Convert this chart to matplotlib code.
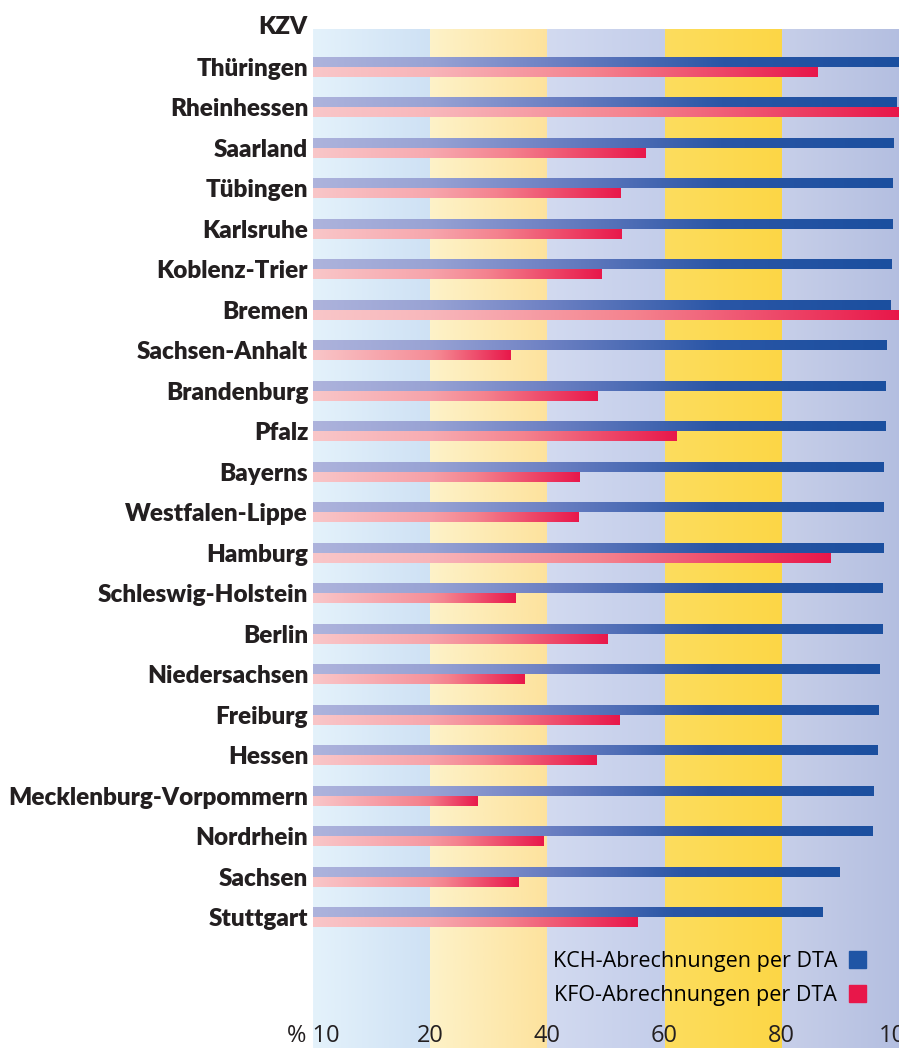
import numpy as np
import matplotlib.pyplot as plt
from matplotlib.colors import LinearSegmentedColormap
from matplotlib.patches import Patch

# KZV regions, top to bottom
regions = ['Thüringen', 'Rheinhessen', 'Saarland', 'Tübingen', 'Karlsruhe',
           'Koblenz-Trier', 'Bremen', 'Sachsen-Anhalt', 'Brandenburg', 'Pfalz',
           'Bayerns', 'Westfalen-Lippe', 'Hamburg', 'Schleswig-Holstein', 'Berlin',
           'Niedersachsen', 'Freiburg', 'Hessen', 'Mecklenburg-Vorpommern',
           'Nordrhein', 'Sachsen', 'Stuttgart']

# share of claims submitted per DTA, in %
kch = [100.0, 99.7, 99.3, 99.1, 99.0, 98.9, 98.8, 98.1, 97.9, 97.8, 97.6,
       97.5, 97.5, 97.4, 97.4, 96.8, 96.6, 96.5, 95.9, 95.7, 90.1, 87.1]
kfo = [86.2, 100.0, 56.9, 52.6, 52.9, 49.4, 100.0, 33.8, 48.7, 62.2, 45.6,
       45.5, 88.4, 34.8, 50.5, 36.2, 52.4, 48.5, 28.3, 39.5, 35.2, 55.5]

ticks = [10, 20, 40, 60, 80, 100]
tick_labels = ['% 10', '20', '40', '60', '80', '100']
legend_labels = ['KCH-Abrechnungen per DTA', 'KFO-Abrechnungen per DTA']

# background stripes between the ticks (left colour, right colour)
band_colors = [('#e4f2fb', '#cde0f4'),
               ('#fdf2c8', '#fde29c'),
               ('#d2daf0', '#c3cdea'),
               ('#fddd5e', '#fcd645'),
               ('#c7cfe9', '#b3bee0')]

blue_cmap = LinearSegmentedColormap.from_list('kch', ['#adb3dc', '#6f82c4', '#2a56a6', '#1b4f9f'])
red_cmap = LinearSegmentedColormap.from_list('kfo', ['#f9c6c8', '#f4828e', '#e8174a'])
blue_solid = '#1f55a5'
red_solid = '#e8174a'
text_color = '#231f20'


# the first stripe covers 10-20, the others 20 units each
def fwd(x):
    x = np.asarray(x, dtype=float)
    return np.where(x < 20, 2 * (x - 10), x)


def inv(y):
    y = np.asarray(y, dtype=float)
    return np.where(y < 20, y / 2 + 10, y)


W, H = 899, 1048
fig = plt.figure(figsize=(W / 100, H / 100), dpi=100)
ax = fig.add_axes([313 / W, 0, (W - 313) / W, (H - 28) / H])
ax.set_xscale('function', functions=(fwd, inv))

n = len(regions)
y = np.arange(n)
ylim = (24.23, -0.963)
bh = 0.247
grad = np.linspace(0, 1, 256).reshape(1, -1)

for (lo, hi), (c0, c1) in zip(zip(ticks[:-1], ticks[1:]), band_colors):
    cm = LinearSegmentedColormap.from_list('band', [c0, c1])
    # small overlap so no seam shows between stripes
    ax.imshow(grad, extent=[lo, hi + 0.6, ylim[0], ylim[1]], cmap=cm,
              aspect='auto', zorder=0, interpolation='bilinear')

blue_bars = ax.barh(y - bh / 2, np.array(kch) - 10, left=10, height=bh, alpha=0)
red_bars = ax.barh(y + bh / 2, np.array(kfo) - 10, left=10, height=bh, alpha=0)

for bars, cm in ((blue_bars, blue_cmap), (red_bars, red_cmap)):
    for b in bars:
        x0, w = b.get_x(), b.get_width()
        y0, h = b.get_y(), b.get_height()
        ax.imshow(grad, extent=[x0, x0 + w, y0 + h, y0], cmap=cm,
                  aspect='auto', zorder=2, interpolation='bilinear')

ax.set_xlim(10, 100)
ax.set_ylim(*ylim)

ax.set_yticks(y, regions)
for lab in ax.get_yticklabels():
    lab.set_fontfamily('Lato')
    lab.set_fontweight('heavy')
    lab.set_fontsize(17.5)
    lab.set_color(text_color)
ax.tick_params(axis='y', length=0, pad=3.5)

ax.set_xticks(ticks, tick_labels)
for lab in ax.get_xticklabels():
    lab.set_fontfamily('Open Sans')
    lab.set_fontsize(17)
    lab.set_color(text_color)
ax.tick_params(axis='x', length=0, pad=-17)

for s in ax.spines.values():
    s.set_visible(False)

fig.text(308 / W, 1 - 27 / H, 'KZV', ha='right', va='center',
         fontfamily='Lato', fontweight='heavy', fontsize=17.5, color=text_color)

handles = [Patch(color=blue_solid), Patch(color=red_solid)]
ax.legend(handles, legend_labels, loc='upper right', bbox_to_anchor=(0.944, 0.095),
          frameon=False, markerfirst=False, borderpad=0, borderaxespad=0,
          handlelength=0.8, handleheight=0.8, handletextpad=0.55, labelspacing=0.6,
          prop={'family': 'Open Sans', 'size': 15.5})

fig.savefig('out.png', dpi=100, facecolor='white')
